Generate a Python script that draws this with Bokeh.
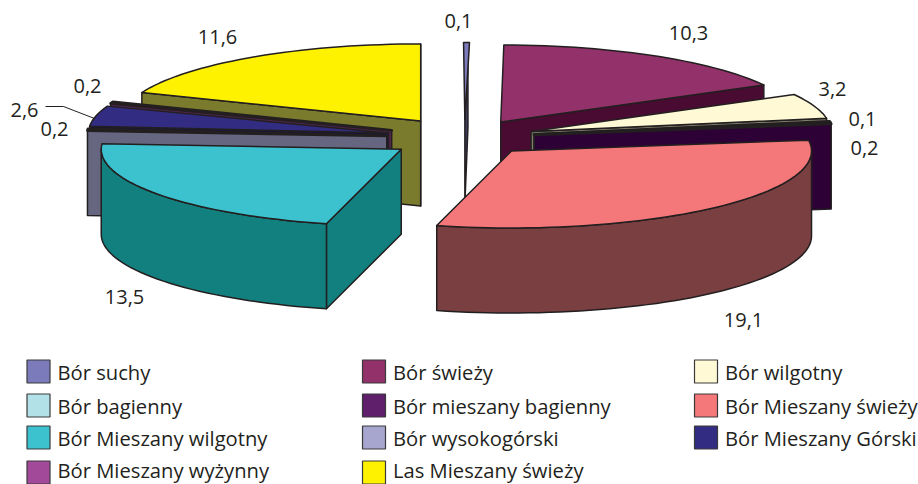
import math
from bokeh.plotting import figure
from bokeh.embed import file_html
from bokeh.resources import INLINE
from bokeh.core.properties import value

categories = ["Bór suchy", "Bór świeży", "Bór wilgotny", "Bór bagienny", "Bór mieszany bagienny",
              "Bór Mieszany świeży", "Bór Mieszany wilgotny", "Bór wysokogórski",
              "Bór Mieszany Górski", "Bór Mieszany wyżynny", "Las Mieszany świeży"]
values = [0.1, 10.3, 3.2, 0.1, 0.2, 19.1, 13.5, 0.2, 2.6, 0.2, 11.6]
value_labels = ["0,1", "10,3", "3,2", "0,1", "0,2", "19,1", "13,5", "0,2", "2,6", "0,2", "11,6"]
top_colors = ["#7B7BBB", "#93316A", "#FFF9D6", "#B2E2E8", "#5F1F6B", "#F47779", "#3CC1CE",
              "#A6A6CF", "#322D82", "#A3499A", "#FFF200"]
side_colors = ["#3D3D5E", "#4A0B32", "#807D6B", "#597175", "#2D0136", "#7A3F40", "#12807F",
               "#666680", "#191640", "#52254D", "#7B7B2E"]
label_x = [458, 688, 832, 862, 864, 743, 124, 54, 24, 87, 217]
label_y = [20, 32, 88, 118, 147, 319, 296, 128, 109, 85, 36]

legend_rows = [["Bór suchy", "Bór świeży", "Bór wilgotny"],
               ["Bór bagienny", "Bór mieszany bagienny", "Bór Mieszany świeży"],
               ["Bór Mieszany wilgotny", "Bór wysokogórski", "Bór Mieszany Górski"],
               ["Bór Mieszany wyżynny", "Las Mieszany świeży"]]
legend_col_x = [38, 373.5, 705.5]
legend_row_y = [371, 405, 437, 472]
legend_text_y = [371, 405, 437, 469.5]

# pie geometry
CX, CY, RX, RY, DEPTH = 464, 137, 300, 77, 85
EXPLODE_RIGHT, EXPLODE_LEFT = 0.235, 0.26
SLIVER_PAD = (0.25, 0.3)
OUT = "#231F20"
FONT = "Open Sans"

p = figure(width=918, height=484, x_range=(0, 918), y_range=(484, 0), toolbar_location=None,
           output_backend="svg", min_border=0, outline_line_color=None)
p.xaxis.visible = False
p.yaxis.visible = False
p.grid.visible = False

total = sum(values)
slices = []
cum = 0.0
for i, v in enumerate(values):
    a, b = 360 * cum / total, 360 * (cum + v) / total
    cum += v
    slices.append((i, a, b))


def pt(cx, cy, deg, dz=0):
    t = math.radians(deg)
    return cx + RX * math.sin(t), cy - RY * math.cos(t) + dz


def arc(cx, cy, a, b, dz=0):
    n = max(2, int((b - a) / 2) + 2)
    return [pt(cx, cy, a + (b - a) * k / (n - 1), dz) for k in range(n)]


def face(points, color, lw=1.5):
    p.patch([q[0] for q in points], [q[1] for q in points], fill_color=color,
            line_color=OUT, line_width=lw, line_join="round")


for i, a, b in sorted(slices, key=lambda s: -math.cos(math.radians((s[1] + s[2]) / 2))):
    m = math.radians((a + b) / 2)
    e = EXPLODE_RIGHT if math.sin(m) > 0 else EXPLODE_LEFT
    cx = CX + e * RX * math.sin(m)
    cy = CY - e * RY * math.cos(m)
    lw = 2.8 if (values[i] < 1 and i != 0) else 1.5
    for ang, vis in ((a, math.sin(math.radians(a)) < 0), (b, math.sin(math.radians(b)) > 0)):
        if vis:
            q = pt(cx, cy, ang)
            face([(cx, cy), q, (q[0], q[1] + DEPTH), (cx, cy + DEPTH)], side_colors[i], 1.5)
    lo, hi = max(a, 90), min(b, 270)
    if hi > lo:
        face(arc(cx, cy, lo, hi) + arc(cx, cy, lo, hi, DEPTH)[::-1], side_colors[i])
    if i == 0:
        a, b = a - SLIVER_PAD[0], b + SLIVER_PAD[1]
    face([(cx, cy)] + arc(cx, cy, a, b), top_colors[i], lw)

p.text(label_x, label_y, text=value_labels, text_font=value(FONT), text_font_size="20px",
       text_color=OUT, text_align="center", text_baseline="middle")
p.line([45, 63, 94], [106, 106, 118], line_color=OUT, line_width=1)

for r, row in enumerate(legend_rows):
    for c, name in enumerate(row):
        x, y = legend_col_x[c], legend_row_y[r]
        p.rect([x], [y], width=23, height=23, fill_color=top_colors[categories.index(name)],
               line_color="#3A3A3A", line_width=1.2)
        p.text([x + 19], [legend_text_y[r]], text=[name], text_font=value(FONT),
               text_font_size="20.2px", text_color=OUT, text_align="left", text_baseline="middle")

html = file_html(p, INLINE)
open("out.html", "w").write(html)
